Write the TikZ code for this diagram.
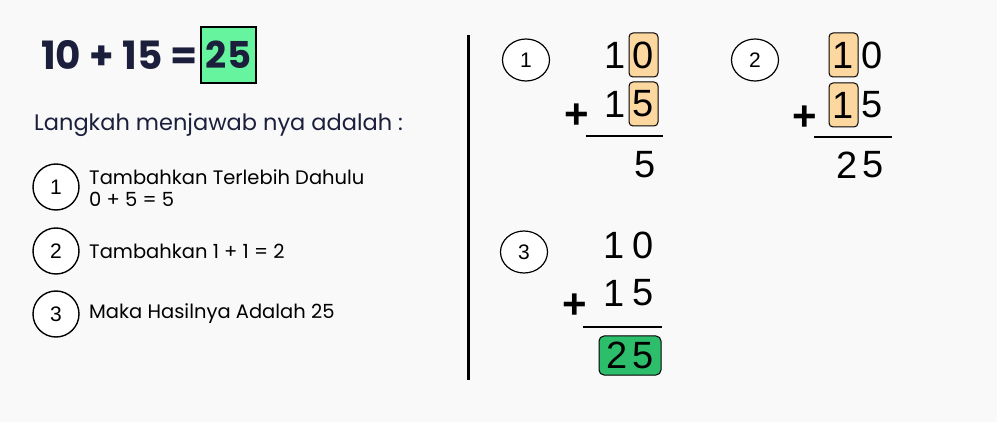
\documentclass[tikz,border=0pt]{standalone}
\usepackage{fontspec}
\setmainfont{Poppins}
\newfontfamily\digfont{Liberation Sans}
\usetikzlibrary{shapes.geometric}
\definecolor{bgc}{HTML}{F9F9F9}
\definecolor{navy}{HTML}{1B1F3B}
\definecolor{lgreen}{HTML}{66F59E}
\definecolor{dgreen}{HTML}{2DBE6C}
\definecolor{orng}{HTML}{FDD7A0}
\tikzset{
  stepc/.style={draw=black, line width=1.4pt, fill=white, circle, minimum size=46pt, inner sep=0pt, font=\digfont\fontsize{21}{21}\selectfont},
  stepe/.style={draw=black, line width=1.2pt, fill=white, ellipse, minimum width=47pt, minimum height=42pt, inner sep=0pt, font=\digfont\fontsize{21}{21}\selectfont},
  steptext/.style={anchor=west, inner sep=0pt, font=\fontsize{19.5}{22}\selectfont, align=left},
  dig/.style={inner sep=0pt, font=\digfont\fontsize{38}{38}\selectfont},
  plus/.style={inner sep=0pt, font=\digfont\bfseries\fontsize{42}{42}\selectfont},
  hbox/.style={draw=black, line width=1pt, fill=orng, rounded corners=4pt, minimum width=29pt, minimum height=44pt, inner sep=0pt},
}
\begin{document}
\begin{tikzpicture}[x=1pt,y=-1pt]
\fill[bgc] (0,0) rectangle (997,422);
\useasboundingbox (0,0) rectangle (997,422);
% title
\node[anchor=east, inner sep=0pt, text=navy, font=\bfseries\fontsize{39}{39}\selectfont] (eq) at (198,55) {10 + 15 =};
\node[draw=black, line width=1.2pt, fill=lgreen, minimum width=55pt, minimum height=56pt, inner sep=0pt, text=navy, font=\bfseries\fontsize{37}{37}\selectfont] (ans) at (228.5,55) {25};
\node[anchor=west, inner sep=0pt, text=navy, font=\fontsize{22.5}{22.5}\selectfont] (lang) at (34,125) {Langkah menjawab nya adalah :};
% steps
\node[stepc] (c1) at (56,187) {1};
\node[steptext] (t1) at (89,188) {Tambahkan Terlebih Dahulu\\0 + 5 = 5};
\node[stepc] (c2) at (56,251) {2};
\node[steptext] (t2) at (89,251) {Tambahkan 1 + 1 = 2};
\node[stepc] (c3) at (56,314) {3};
\node[steptext] (t3) at (89,314) {Maka Hasilnya Adalah 25};
% divider
\coordinate (vtop) at (468,35);
\coordinate (vbot) at (468,380);
\draw[line width=3pt] (vtop) -- (vbot);
% step 1
\node[stepe] (r1) at (526,60) {1};
\node[hbox] (b1a) at (643.5,55) {};
\node[hbox] (b1b) at (643.5,104) {};
\node[dig] at (615,55) {1};
\node[dig] at (643.5,55) {0};
\node[dig] at (615,104) {1};
\node[dig] at (643.5,104) {5};
\node[plus] at (577,116) {+};
\coordinate (l1a) at (586,136); \coordinate (l1b) at (663,136);
\draw[line width=2.5pt] (l1a) -- (l1b);
\node[dig] at (645,165) {5};
% step 2
\node[stepe] (r2) at (755,60) {2};
\node[hbox] (b2a) at (843.5,55) {};
\node[hbox] (b2b) at (843.5,105) {};
\node[dig] at (843.5,55) {1};
\node[dig] at (872,55) {0};
\node[dig] at (843.5,105) {1};
\node[dig] at (872,105) {5};
\node[plus] at (805,118) {+};
\coordinate (l2a) at (814,137); \coordinate (l2b) at (892,137);
\draw[line width=2.5pt] (l2a) -- (l2b);
\node[dig] at (847,165) {2};
\node[dig] at (873,165) {5};
% step 3
\node[stepe] (r3) at (524,252) {3};
\node[dig] at (614,245) {1};
\node[dig] at (643,245) {0};
\node[dig] at (614,293) {1};
\node[dig] at (643,293) {5};
\node[plus] at (575,306) {+};
\coordinate (l3a) at (583,327); \coordinate (l3b) at (662,327);
\draw[line width=2.5pt] (l3a) -- (l3b);
\node[draw=black, line width=1pt, fill=dgreen, rounded corners=5pt, minimum width=62pt, minimum height=39pt, inner sep=0pt] (g3) at (630,355.5) {};
\node[dig] at (617,355.5) {2};
\node[dig] at (643,355.5) {5};
\end{tikzpicture}
\end{document}
